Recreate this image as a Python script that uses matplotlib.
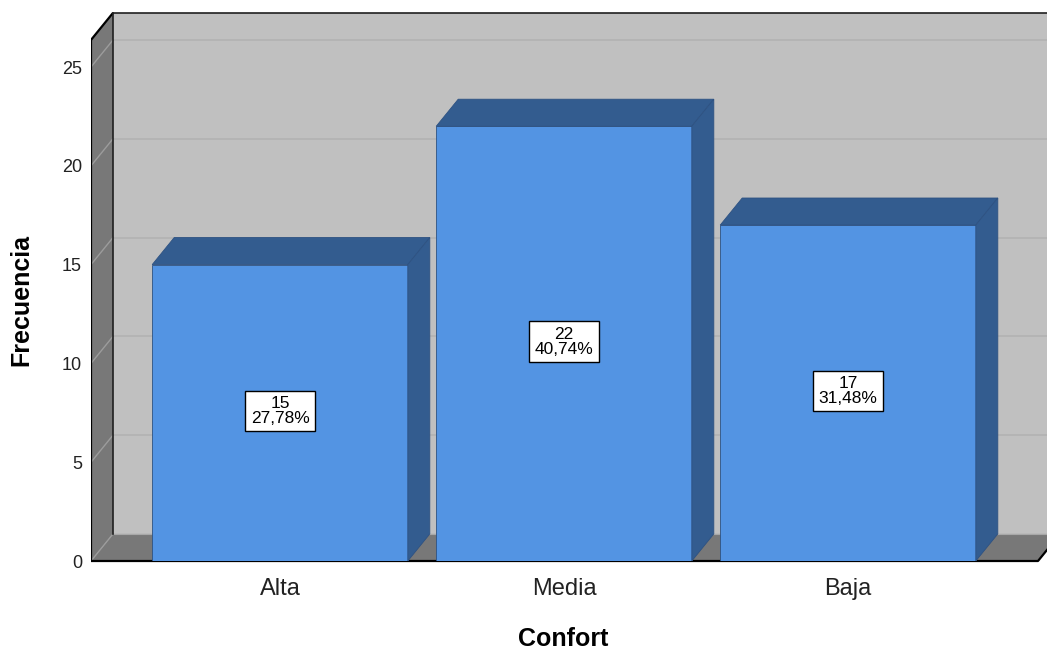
import matplotlib.pyplot as plt
from matplotlib.patches import Polygon

plt.rcParams['font.family'] = ['Liberation Sans', 'DejaVu Sans']

categorias = ['Alta', 'Media', 'Baja']
frecuencias = [15, 22, 17]
y_ticks = [0, 5, 10, 15, 20, 25]

total = sum(frecuencias)
porcentajes = [100 * f / total for f in frecuencias]

# colores tipo SPSS
c_pared = '#c0c0c0'
c_lateral = '#787878'
c_rejilla = '#b2b2b2'
c_rejilla_lat = '#9c9c9c'
c_frente = '#5394e3'
c_sombra = '#335c8f'
c_borde = '#2e5282'

# profundidad 3D en unidades de datos
dx, dy = 0.0775, 1.37
x_izq, x_der = -0.6655, 2.669
y_sup = 26.37
ancho = 0.9

fig = plt.figure(figsize=(10.47, 6.5), dpi=100)
ax = fig.add_axes([91 / 1047, 89 / 650, 956 / 1047, 551 / 650])
ax.set_xlim(x_izq, x_izq + 956 / 284)
ax.set_ylim(0, 551 / 19.76)
ax.patch.set_visible(False)
for s in ax.spines.values():
    s.set_visible(False)

# pared del fondo
ax.add_patch(Polygon([(x_izq + dx, dy), (x_der + 1, dy), (x_der + 1, y_sup + dy),
                      (x_izq + dx, y_sup + dy)], closed=True, fc=c_pared, ec='none', zorder=1))
for v in y_ticks[1:]:
    ax.plot([x_izq + dx, x_der + 1], [v + dy, v + dy], color=c_rejilla, lw=1.2, zorder=2)

# suelo
ax.add_patch(Polygon([(x_izq, 0), (x_der, 0), (x_der + dx, dy), (x_izq + dx, dy)],
                     closed=True, fc=c_lateral, ec='none', zorder=3))
ax.plot([x_izq + dx, x_der + dx], [dy, dy], color='#a8a8a8', lw=0.8, zorder=3)

# pared lateral izquierda
ax.add_patch(Polygon([(x_izq, 0), (x_izq + dx, dy), (x_izq + dx, y_sup + dy), (x_izq, y_sup)],
                     closed=True, fc=c_lateral, ec='none', zorder=3))
for v in y_ticks:
    ax.plot([x_izq, x_izq + dx], [v, v + dy], color=c_rejilla_lat, lw=1.0, zorder=4)

# bordes negros
kw = dict(color='black', lw=1.6, zorder=5, solid_capstyle='butt')
ax.plot([x_izq, x_izq], [0, y_sup], **kw)
ax.plot([x_izq, x_izq + dx], [y_sup, y_sup + dy], **kw)
ax.plot([x_izq + dx, x_der + 1], [y_sup + dy, y_sup + dy], color='#202020', lw=1.2, zorder=5)
ax.plot([x_izq + dx, x_izq + dx], [dy, y_sup + dy], color='#202020', lw=1.2, zorder=5)
ax.plot([x_izq, x_der, x_der + dx], [0, 0, dy], clip_on=False, **kw)

# barras
xs = list(range(len(categorias)))
ax.bar(xs, frecuencias, width=ancho, color=c_frente, edgecolor=c_borde, linewidth=0.6, zorder=6)
for x, h in zip(xs, frecuencias):
    l, r = x - ancho / 2, x + ancho / 2
    ax.add_patch(Polygon([(l, h), (r, h), (r + dx, h + dy), (l + dx, h + dy)], closed=True,
                         fc=c_sombra, ec=c_borde, lw=0.6, zorder=6))
    ax.add_patch(Polygon([(r, 0), (r + dx, dy), (r + dx, h + dy), (r, h)], closed=True,
                         fc=c_sombra, ec=c_borde, lw=0.6, zorder=6))

# etiquetas de valor
for x, h, p in zip(xs, frecuencias, porcentajes):
    txt = f'{h}\n{p:.2f}%'.replace('.', ',')
    ax.text(x, h / 2 + 0.1, txt, ha='center', va='center', fontsize=12.5, linespacing=1.0,
            zorder=8, bbox=dict(boxstyle='square,pad=0.3', fc='white', ec='black', lw=1.0))

ax.set_xticks(xs)
ax.set_xticklabels(categorias, fontsize=17, color='#222222')
ax.set_yticks(y_ticks)
ax.set_yticklabels([str(v) for v in y_ticks], fontsize=13, color='#222222')
ax.tick_params(axis='x', length=0, pad=12)
ax.tick_params(axis='y', length=0, pad=6.5)

fig.text(21 / 1047, 1 - 300 / 650, 'Frecuencia', rotation=90, ha='center', va='center',
         fontsize=18, fontweight='bold')
fig.text(563 / 1047, 1 - 639 / 650, 'Confort', ha='center', va='center',
         fontsize=18, fontweight='bold')

fig.savefig('out.png', dpi=100)
